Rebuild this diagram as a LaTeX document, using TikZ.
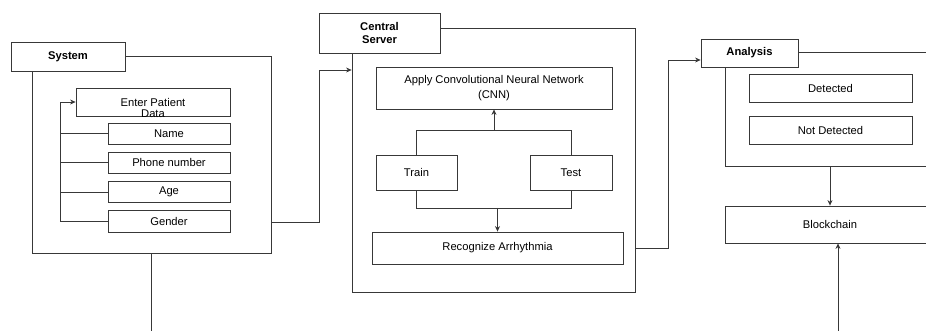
\documentclass[tikz,border=0pt]{standalone}
\usepackage{fontspec}
\setmainfont{Liberation Sans}
\usepackage{tikz}
\usetikzlibrary{arrows,arrows.meta,shapes,calc}
\usetikzlibrary{positioning}
\definecolor{clrBorders}{rgb}{0.22,0.22,0.22}
\tikzstyle{box_style0}=[draw=clrBorders, line width=0.8pt, anchor=center, text centered, inner sep=0pt, font=\fontsize{11.2}{13}\selectfont]
\tikzstyle{title_box}=[box_style0, fill=white, align=center, font=\fontsize{11.2}{12.6}\selectfont\bfseries]
\tikzstyle{frame}=[draw=clrBorders, line width=0.8pt, inner sep=0pt]
\tikzstyle{field}=[box_style0, minimum width=122pt, minimum height=21pt]
\tikzstyle{diagram0}=[box_style0, align=center]
\tikzstyle{myarrow}=[->, >={Stealth[length=5.5pt,width=5pt]}, line width=0.8pt, draw=clrBorders]
\tikzstyle{line}=[line width=0.8pt, draw=clrBorders]

\begin{document}
\begin{tikzpicture}[x=1pt, y=-1pt]
		\clip (0,0) rectangle (926,331);

		% System
		\node[frame, minimum width=239pt, minimum height=197pt] (SB) at (151.5,154.5) {};
		\node[title_box, minimum width=114pt, minimum height=29pt] (S) at (68,56.5) {System};

		\node[diagram0, minimum width=154pt, minimum height=28pt] (A) at (153,102) {};
		\node[align=center, inner sep=0pt, font=\fontsize{11.2}{11}\selectfont] (A1) at (153,107.5) {Enter Patient\\Data};
		\node[field] (B) at (169,133.5) {Name};
		\node[field, below=7.5pt of B] (C) {Phone number};
		\node[field, below=7.5pt of C] (D) {Age};
		\node[field, below=7.5pt of D] (E) {Gender};

		\draw[myarrow] (E.west) -- (E.west -| 60,0) |- (A.west);
		\foreach \n in {B,C,D}
			\draw[line] (\n.west) -- (\n.west -| 60,0);

		% Central server
		\node[frame, minimum width=283pt, minimum height=264pt] (CB) at (493.5,160) {};
		\node[title_box, minimum width=121pt, minimum height=40pt] (CS) at (379.5,33) {Central\\Server};

		\node[diagram0, minimum width=236pt, minimum height=42pt, font=\fontsize{11.2}{15}\selectfont] (F) at (494,88) {Apply Convolutional Neural Network\\(CNN)};
		\node[diagram0, minimum width=81pt, minimum height=35pt] (G) at (416.5,172.5) {Train};
		\node[diagram0, minimum width=82pt, minimum height=35pt] (H) at (571,172.5) {Test};
		\node[diagram0, minimum width=251pt, minimum height=32pt] (I) at (497.5,248) {Recognize Arrhythmia};

		\draw[line] (G.north) -- ++(0,-24) -| (H.north);
		\draw[myarrow] (F.south |- 0,131) -- (F.south);
		\draw[line] (G.south) -- ++(0,18) -| (H.south);
		\draw[myarrow] (I.north |- 0,208) -- (I.north);

		% Analysis
		\node[frame, minimum width=210pt, minimum height=114pt] (AB) at (830,109) {};
		\node[title_box, minimum width=97pt, minimum height=28pt] (AN) at (749.5,53) {Analysis};

		\node[diagram0, minimum width=163pt, minimum height=28pt] (J) at (830.5,88) {Detected};
		\node[diagram0, minimum width=163pt, minimum height=28pt] (K) at (830.5,130) {Not Detected};
		\node[diagram0, minimum width=210pt, minimum height=37pt] (L) at (830,224.5) {Blockchain};

		% links between the parts
		\draw[myarrow] (SB.east |- 0,222) -| (319,70) -- (CB.west |- 0,70);
		\draw[myarrow] (CB.east |- I.east) -| (668,60) -- (AN.west |- 0,60);
		\draw[myarrow] (AB.south) -- (L.north);

		\coordinate (P) at (838,335);
		\draw[myarrow] (P) -- (L.south -| P);
		\coordinate (Q) at (151.5,335);
		\draw[line] (SB.south) -- (Q);

	\end{tikzpicture}
\end{document}
